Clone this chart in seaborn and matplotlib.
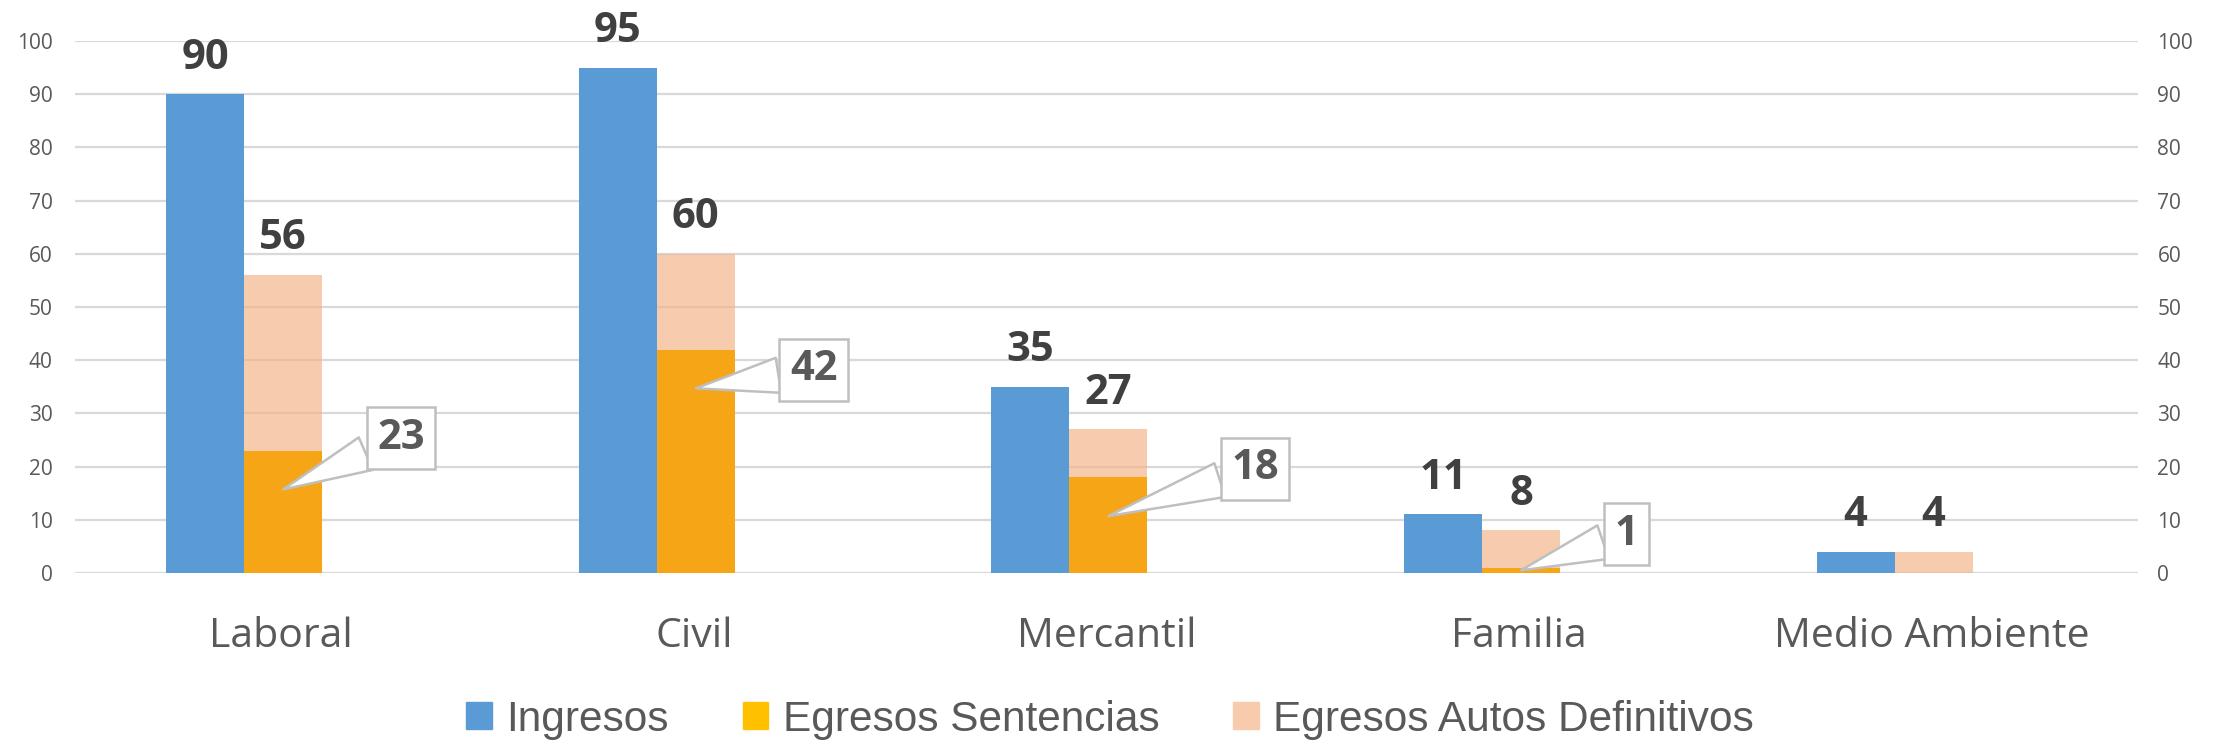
import numpy as np
import pandas as pd
import matplotlib
matplotlib.use("Agg")
import matplotlib.pyplot as plt
import seaborn as sns
from matplotlib.patches import Patch

# ---------------------------- datos ----------------------------
categorias = ["Laboral", "Civil", "Mercantil", "Familia", "Medio Ambiente"]
ingresos = [90, 95, 35, 11, 4]
sentencias = [23, 42, 18, 1, 0]
autos = [56, 60, 27, 8, 4]

# colores
c_ingresos = "#5B9BD5"
c_sent = "#F5A516"
c_sent_leyenda = "#FFC000"
c_autos = "#F4B183"
c_autos_leyenda = "#F8CBAD"

# posicion de las cajas de llamada (solo layout)
llamada_dx = [0.38, 0.38, 0.45, 0.35]
llamada_dy = [2.3, -3.8, 1.6, 6.3]

sns.set_theme(style="white")
plt.rcParams["font.family"] = ["Open Sans", "DejaVu Sans"]

df_ing = pd.DataFrame({"cat": categorias, "serie": "Ingresos", "valor": ingresos})
df_aut = pd.DataFrame({"cat": categorias, "serie": "Egresos", "valor": autos})
df_sen = pd.DataFrame({"cat": categorias, "serie": "Egresos", "valor": sentencias})
orden = ["Ingresos", "Egresos"]
ancho = 0.378

fig = plt.figure(figsize=(22.13, 7.45), dpi=100)
ax = fig.add_axes([0.03389, 0.23087, 0.93222, 0.71409])
ax2 = ax.twinx()

sns.barplot(data=df_ing, x="cat", y="valor", hue="serie", hue_order=orden,
            palette={"Ingresos": c_ingresos, "Egresos": c_autos}, width=ancho,
            dodge=True, saturation=1, legend=False, ax=ax, zorder=2,
            edgecolor="none", linewidth=0)
sns.barplot(data=df_aut, x="cat", y="valor", hue="serie", hue_order=orden,
            palette={"Ingresos": c_ingresos, "Egresos": c_autos}, width=ancho,
            dodge=True, saturation=1, alpha=0.65, legend=False, ax=ax2,
            edgecolor="none", linewidth=0)
sns.barplot(data=df_sen, x="cat", y="valor", hue="serie", hue_order=orden,
            palette={"Ingresos": c_ingresos, "Egresos": c_sent}, width=ancho,
            dodge=True, saturation=1, legend=False, ax=ax2,
            edgecolor="none", linewidth=0)

for a in (ax, ax2):
    a.set_ylim(0, 100)
    a.set_yticks(range(0, 101, 10))
    a.set_xlim(-0.41, 4.59)
    a.set_xlabel("")
    a.set_ylabel("")
    for s in a.spines.values():
        s.set_visible(False)
    a.tick_params(axis="y", length=0, labelsize=15, labelcolor="#595959")

ax.tick_params(axis="y", pad=16)
ax2.tick_params(axis="y", pad=14)
ax.yaxis.grid(True, color="#D9D9D9", linewidth=1.6)
ax.set_axisbelow(True)
ax2.grid(False)

x = np.arange(len(categorias))
ax.set_xticks(x + 0.09)
ax.set_xticklabels(categorias, fontsize=29.5, color="#595959")
ax.tick_params(axis="x", length=0, pad=31)

w = ancho / 2
for i, v in enumerate(ingresos):
    ax2.annotate(str(v), xy=(i - w / 2, v), xytext=(0, 18.5), textcoords="offset points",
                 ha="center", va="baseline", fontsize=30, fontweight="bold", color="#404040")
for i, v in enumerate(autos):
    ax2.annotate(str(v), xy=(i + w / 2, v), xytext=(0, 18.5), textcoords="offset points",
                 ha="center", va="baseline", fontsize=30, fontweight="bold", color="#404040")

for i, v in enumerate(sentencias):
    if v == 0:
        continue
    punta = (i + w / 2, max(v - 7.3, v / 2))
    ax2.annotate(str(v), xy=punta, xytext=(i + llamada_dx[i], v + llamada_dy[i]),
                 ha="center", va="center", fontsize=30, fontweight="bold", color="#595959",
                 bbox=dict(boxstyle="square,pad=0.25", fc="white", ec="#BFBFBF", lw=1.8),
                 arrowprops=dict(arrowstyle="wedge,tail_width=0.85", fc="white",
                                 ec="#BFBFBF", lw=1.8, shrinkA=0, shrinkB=0),
                 zorder=5)

handles = [Patch(color=c_ingresos, label="Ingresos"),
           Patch(color=c_sent_leyenda, label="Egresos Sentencias"),
           Patch(color=c_autos_leyenda, label="Egresos Autos Definitivos")]
leg = fig.legend(handles=handles, loc="center", bbox_to_anchor=(0.5016, 0.034), ncol=3,
                 frameon=False, handlelength=0.6, handleheight=0.6, handletextpad=0.34,
                 columnspacing=1.75, prop={"family": ["Liberation Sans", "DejaVu Sans"], "size": 30.5})
for t in leg.get_texts():
    t.set_color("#595959")

fig.savefig("out.png", dpi=100)
